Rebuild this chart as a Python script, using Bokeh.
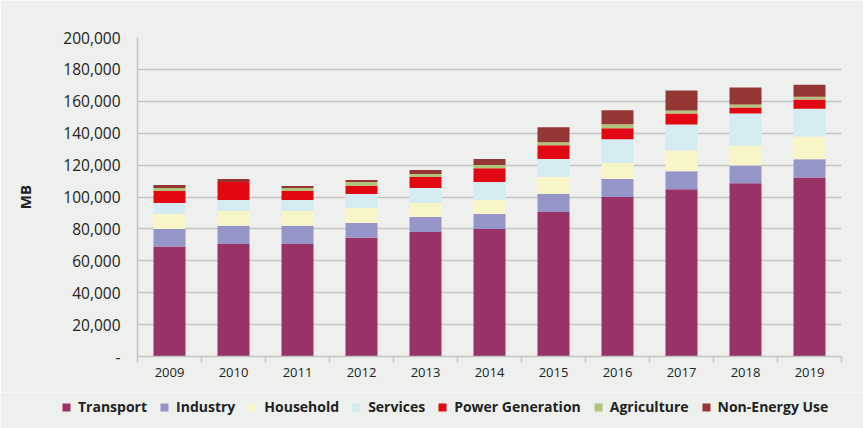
from bokeh.plotting import figure
from bokeh.models import (ColumnDataSource, FixedTicker, Range1d, Legend, LegendItem,
                          NumeralTickFormatter)
from bokeh.embed import file_html
from bokeh.resources import INLINE

years = [2009, 2010, 2011, 2012, 2013, 2014, 2015, 2016, 2017, 2018, 2019]
transport = [68900, 70600, 70600, 74400, 78100, 80000, 90600, 100000, 104800, 108600, 112300]
industry = [11100, 11300, 11300, 9350, 9400, 9400, 11300, 11250, 11300, 11200, 11300]
household = [9400, 9350, 9350, 9350, 8750, 8700, 10600, 10000, 13100, 12500, 14400]
services = [6850, 6850, 6850, 8800, 9350, 11300, 11250, 15000, 16200, 20000, 17400]
power_generation = [7500, 11300, 5650, 5000, 6900, 8700, 8750, 6850, 6900, 3800, 5700]
agriculture = [1850, 0, 1850, 2500, 1900, 1900, 1900, 2500, 1900, 1900, 1800]
non_energy_use = [1900, 1850, 1300, 1200, 2500, 3750, 9350, 8800, 12500, 10600, 7500]

series_names = ["Transport", "Industry", "Household", "Services",
                "Power Generation", "Agriculture", "Non-Energy Use"]
series_values = [transport, industry, household, services,
                 power_generation, agriculture, non_energy_use]
colors = ["#993366", "#9595CA", "#F8F6C9", "#D3EBF1", "#E30613", "#AFC47C", "#963634"]
y_ticks = [0, 20000, 40000, 60000, 80000, 100000, 120000, 140000, 160000, 180000, 200000]

keys = ["s%d" % i for i in range(len(series_names))]
data = {"year": years}
for k, v in zip(keys, series_values):
    data[k] = v
source = ColumnDataSource(data)

BG = "#EDF0ED"
GRID = "#C4C4C4"
FONT = "Open Sans"
TXT = "#222222"

p = figure(width=863, height=392, output_backend="svg", toolbar_location=None,
           x_range=Range1d(years[0] - 0.5, years[-1] + 0.5),
           y_range=Range1d(0, 200000),
           min_border_left=137, min_border_top=37, min_border_right=22, min_border_bottom=36,
           background_fill_color=BG, border_fill_color=BG, outline_line_color=None)

p.vbar_stack(keys, x="year", width=0.5, source=source, color=colors, line_color=None)

# x axis: labels under the bars, small ticks between the categories
xa = p.xaxis[0]
xa.ticker = FixedTicker(ticks=years, minor_ticks=[y - 0.5 for y in years] + [years[-1] + 0.5])
xa.major_tick_out = 0
xa.major_tick_in = 0
xa.minor_tick_out = 6
xa.minor_tick_in = 0
xa.minor_tick_line_color = GRID
xa.minor_tick_line_width = 1.5
xa.axis_line_color = GRID
xa.axis_line_width = 1.5
xa.major_label_text_font = FONT
xa.major_label_text_font_size = "13px"
xa.major_label_text_color = TXT
xa.major_label_standoff = 5

# y axis
ya = p.yaxis[0]
ya.ticker = FixedTicker(ticks=y_ticks)
ya.formatter = NumeralTickFormatter(format="0,0")
ya.major_label_overrides = {0: "-"}
ya.major_tick_out = 0
ya.major_tick_in = 0
ya.minor_tick_line_color = None
ya.axis_line_color = GRID
ya.axis_line_width = 1.5
ya.major_label_text_font = FONT
ya.major_label_text_font_size = "15.5px"
ya.major_label_text_color = TXT
ya.major_label_standoff = 17
ya.axis_label = "MB"
ya.axis_label_text_font = FONT
ya.axis_label_text_font_style = "bold"
ya.axis_label_text_font_size = "15px"
ya.axis_label_text_color = TXT
ya.axis_label_standoff = 25

p.xgrid.grid_line_color = None
p.ygrid.grid_line_color = GRID
p.ygrid.grid_line_width = 1.5

# legend strip under the chart: a separate root, so its frame spans the full width
lg = figure(width=863, height=36, output_backend="svg", toolbar_location=None,
            x_range=Range1d(0, 1), y_range=Range1d(0, 1),
            x_axis_location=None, y_axis_location=None,
            min_border_left=0, min_border_right=0, min_border_top=0, min_border_bottom=0,
            background_fill_color=BG, border_fill_color=BG, outline_line_color=None)
lg.xgrid.grid_line_color = None
lg.ygrid.grid_line_color = None
swatches = lg.vbar_stack(keys, x="year", width=0.5, source=source, color=colors, line_color=None)

items = [LegendItem(label=n, renderers=[r]) for n, r in zip(series_names, swatches)]
legend = Legend(items=items, orientation="horizontal", location=(61, 12),
                background_fill_alpha=0, border_line_color=None,
                label_text_font=FONT, label_text_font_size="14px",
                label_text_font_style="bold", label_text_color=TXT,
                glyph_width=10, glyph_height=10, spacing=12, label_standoff=7,
                padding=0, margin=0, label_height=14)
lg.add_layout(legend, "center")

open("out.html", "w").write(file_html([p, lg], INLINE))
